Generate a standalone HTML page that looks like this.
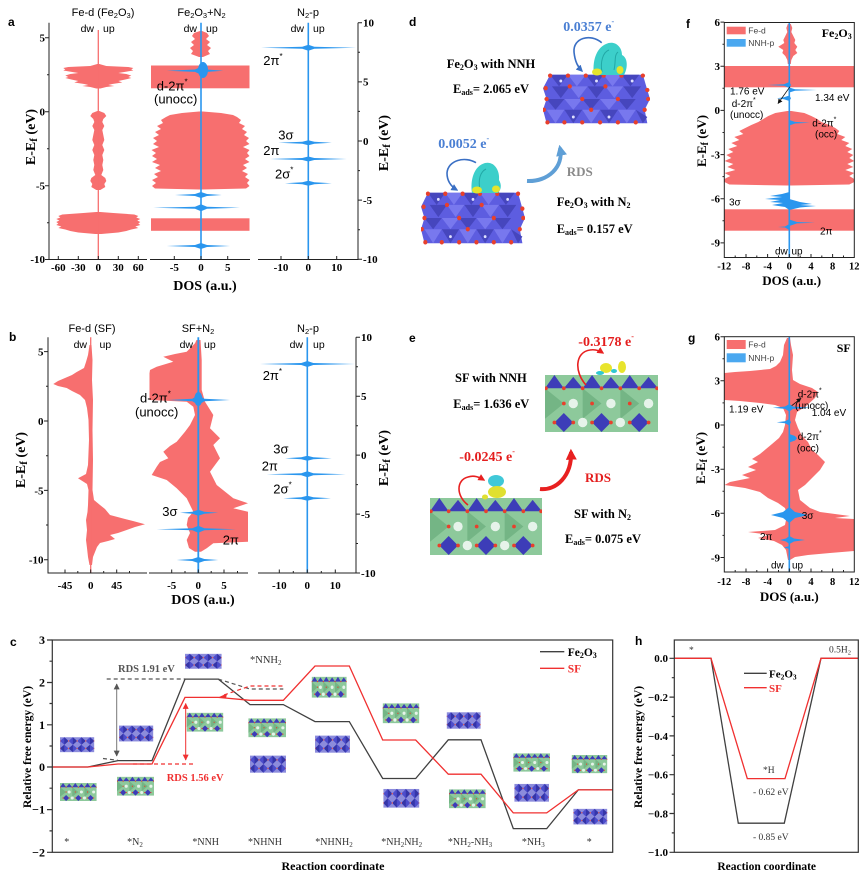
<!DOCTYPE html>
<html><head><meta charset="utf-8">
<style>
html,body{margin:0;padding:0;background:#fff;}
svg{display:block;}
.ss{font-family:"Liberation Sans",sans-serif;}
.ssb{font-family:"Liberation Sans",sans-serif;font-weight:bold;}
.sr{font-family:"Liberation Serif",serif;}
.srb{font-family:"Liberation Serif",serif;font-weight:bold;}
</style></head><body>
<svg width="865" height="879" viewBox="0 0 865 879" xmlns="http://www.w3.org/2000/svg">
<defs>
<marker id="ag" viewBox="0 0 10 10" refX="9" refY="5" markerWidth="6" markerHeight="6" orient="auto-start-reverse"><path d="M0,0 L10,5 L0,10Z" fill="#555"/></marker>
<marker id="ar" viewBox="0 0 10 10" refX="9" refY="5" markerWidth="6" markerHeight="6" orient="auto-start-reverse"><path d="M0,0 L10,5 L0,10Z" fill="#f03030"/></marker>
<marker id="ak" viewBox="0 0 10 10" refX="9" refY="5" markerWidth="6" markerHeight="6" orient="auto"><path d="M0,0 L10,5 L0,10Z" fill="#111"/></marker>
<marker id="ab" viewBox="0 0 10 10" refX="8" refY="5" markerWidth="7" markerHeight="7" markerUnits="userSpaceOnUse" orient="auto"><path d="M0,0 L10,5 L0,10Z" fill="#3a6fc4"/></marker>
<marker id="alb" viewBox="0 0 10 10" refX="7" refY="5" markerWidth="11" markerHeight="11" markerUnits="userSpaceOnUse" orient="auto"><path d="M0,0 L10,5 L0,10Z" fill="#5f9fd6"/></marker>
<marker id="arr" viewBox="0 0 10 10" refX="8" refY="5" markerWidth="7" markerHeight="7" markerUnits="userSpaceOnUse" orient="auto"><path d="M0,0 L10,5 L0,10Z" fill="#e82020"/></marker>
<marker id="arb" viewBox="0 0 10 10" refX="7" refY="5" markerWidth="11" markerHeight="11" markerUnits="userSpaceOnUse" orient="auto"><path d="M0,0 L10,5 L0,10Z" fill="#e82020"/></marker>
<symbol id="fe" viewBox="0 0 120 60" preserveAspectRatio="none">
 <path d="M8,3 H112 L117,20 L120,30 L114,42 L117,57 H4 L0,42 L4,30 L0,18Z" fill="#5d5de0"/>
 <path fill="#4646bd" d="M8,3 L18,16 L28,3Z M48,3 L58,16 L68,3Z M88,3 L98,16 L108,3Z M10,16 L20,29 L30,16Z M50,16 L60,29 L70,16Z M90,16 L100,29 L110,16Z M4,30 L14,42 L24,30Z M44,30 L54,42 L64,30Z M84,30 L94,42 L104,30Z M24,42 L34,57 L44,42Z M64,42 L74,57 L84,42Z M104,42 L112,57 L117,50Z"/>
 <path fill="#7878ee" d="M28,3 L38,16 L48,3Z M68,3 L78,16 L88,3Z M30,16 L40,29 L50,16Z M70,16 L80,29 L90,16Z M24,30 L34,42 L44,30Z M64,30 L74,42 L84,30Z M4,42 L14,57 L24,42Z M44,42 L54,57 L64,42Z M84,42 L94,57 L104,42Z"/>
 <g fill="#e8402c">
  <circle cx="8" cy="4" r="2.4"/><circle cx="28" cy="4" r="2.4"/><circle cx="48" cy="4" r="2.4"/><circle cx="68" cy="4" r="2.4"/><circle cx="88" cy="4" r="2.4"/><circle cx="112" cy="4" r="2.4"/>
  <circle cx="3" cy="18" r="2.4"/><circle cx="30" cy="16" r="2.4"/><circle cx="70" cy="16" r="2.4"/><circle cx="117" cy="20" r="2.4"/>
  <circle cx="4" cy="30" r="2.4"/><circle cx="44" cy="30" r="2.4"/><circle cx="84" cy="30" r="2.4"/><circle cx="118" cy="30" r="2.4"/>
  <circle cx="1" cy="42" r="2.4"/><circle cx="54" cy="42" r="2.4"/><circle cx="114" cy="42" r="2.4"/>
  <circle cx="5" cy="56" r="2.4"/><circle cx="24" cy="56" r="2.4"/><circle cx="44" cy="56" r="2.4"/><circle cx="64" cy="56" r="2.4"/><circle cx="84" cy="56" r="2.4"/><circle cx="104" cy="56" r="2.4"/>
 </g>
 <g fill="#dfe0ff"><circle cx="20" cy="10" r="1.6"/><circle cx="60" cy="10" r="1.6"/><circle cx="100" cy="10" r="1.6"/><circle cx="34" cy="50" r="1.6"/><circle cx="74" cy="50" r="1.6"/></g>
</symbol>
<symbol id="fes" viewBox="0 0 120 60" preserveAspectRatio="none">
 <rect x="0" y="2" width="120" height="56" fill="#8c8cdc"/>
 <path fill="#4d4dcc" d="M0,16 L15,2 L30,16 L15,30Z M30,16 L45,2 L60,16 L45,30Z M60,16 L75,2 L90,16 L75,30Z M90,16 L105,2 L120,16 L105,30Z M0,44 L15,30 L30,44 L15,58Z M30,44 L45,30 L60,44 L45,58Z M60,44 L75,30 L90,44 L75,58Z M90,44 L105,30 L120,44 L105,58Z"/>
 <path fill="#3535a8" d="M15,2 L15,30 L30,16Z M45,2 L45,30 L60,16Z M75,2 L75,30 L90,16Z M105,2 L105,30 L120,16Z M15,30 L15,58 L0,44Z M45,30 L45,58 L30,44Z M75,30 L75,58 L60,44Z M105,30 L105,58 L90,44Z"/>
 <g fill="#e06060"><circle cx="0" cy="16" r="2.5"/><circle cx="30" cy="16" r="2.5"/><circle cx="60" cy="16" r="2.5"/><circle cx="90" cy="16" r="2.5"/><circle cx="120" cy="16" r="2.5"/><circle cx="0" cy="44" r="2.5"/><circle cx="30" cy="44" r="2.5"/><circle cx="60" cy="44" r="2.5"/><circle cx="90" cy="44" r="2.5"/><circle cx="120" cy="44" r="2.5"/></g>
</symbol>
<symbol id="sf" viewBox="0 0 120 60" preserveAspectRatio="none">
 <rect x="0" y="0" width="120" height="60" fill="#8dc99b"/>
 <path fill="#74b585" d="M0,14 L20,30 L0,46Z M40,14 L60,30 L40,46Z M80,14 L100,30 L80,46Z"/>
 <path fill="#3d3db8" d="M0,14 L10,0 L20,14Z M40,14 L50,0 L60,14Z M80,14 L90,0 L100,14Z M20,14 L30,2 L40,14Z M60,14 L70,2 L80,14Z M100,14 L110,2 L120,14Z M10,50 L20,40 L30,50 L20,60Z M50,50 L60,40 L70,50 L60,60Z M90,50 L100,40 L110,50 L100,60Z"/>
 <g fill="#e6f3ea"><circle cx="30" cy="30" r="5"/><circle cx="70" cy="30" r="5"/><circle cx="110" cy="30" r="5"/><circle cx="40" cy="50" r="5"/><circle cx="80" cy="50" r="5"/></g>
 <g fill="#e8402c">
  <circle cx="1" cy="14" r="2"/><circle cx="20" cy="14" r="2"/><circle cx="40" cy="14" r="2"/><circle cx="60" cy="14" r="2"/><circle cx="80" cy="14" r="2"/><circle cx="100" cy="14" r="2"/><circle cx="119" cy="14" r="2"/>
  <circle cx="20" cy="30" r="2"/><circle cx="50" cy="30" r="2"/><circle cx="90" cy="30" r="2"/>
  <circle cx="10" cy="50" r="2"/><circle cx="30" cy="50" r="2"/><circle cx="50" cy="50" r="2"/><circle cx="70" cy="50" r="2"/><circle cx="90" cy="50" r="2"/><circle cx="110" cy="50" r="2"/>
 </g>
</symbol>
</defs>
<rect width="865" height="879" fill="#fff"/>

<!-- ================= PANEL A ================= -->
<text x="8" y="26" class="ssb" font-size="12">a</text>
<text x="103" y="16" text-anchor="middle" class="ss" font-size="11">Fe-d (Fe<tspan dy="2" font-size="7.5">2</tspan><tspan dy="-2">O</tspan><tspan dy="2" font-size="7.5">3</tspan><tspan dy="-2">)</tspan></text>
<text x="201.5" y="16" text-anchor="middle" class="ss" font-size="11">Fe<tspan dy="2" font-size="7.5">2</tspan><tspan dy="-2">O</tspan><tspan dy="2" font-size="7.5">3</tspan><tspan dy="-2">+N</tspan><tspan dy="2" font-size="7.5">2</tspan></text>
<text x="308" y="16" text-anchor="middle" class="ss" font-size="11">N<tspan dy="2" font-size="7.5">2</tspan><tspan dy="-2">-p</tspan></text>
<g fill="#f76f6f">
 <polygon points="99.3,64 106.3,66 128.3,67 133.3,68 131.3,69.5 133.3,70.5 124.3,72 118.3,73 126.3,74 131.3,75.5 128.3,77 131.3,78 125.3,79.5 118.3,81 122.3,82.5 112.3,84 108.3,85 114.3,86 106.3,87 100.3,88.5 96.3,88.5 90.3,87 82.3,86 88.3,85 84.3,84 74.3,82.5 78.3,81 71.3,79.5 65.3,78 68.3,77 65.3,75.5 70.3,74 78.3,73 72.3,72 63.3,70.5 65.3,69.5 63.3,68 68.3,67 90.3,66 97.3,64"/>
 <polygon points="99.3,111 104.3,113 106.3,116 103.3,119 102.3,122 104.3,126 102.3,130 103.3,135 104.3,140 102.3,145 104.3,150 102.3,155 103.3,160 102.3,165 103.3,170 101.3,175 105.3,178 106.3,181 104.3,184 105.3,187 100.3,190 96.3,190 91.3,187 92.3,184 90.3,181 91.3,178 95.3,175 93.3,170 94.3,165 93.3,160 94.3,155 92.3,150 94.3,145 92.3,140 93.3,135 94.3,130 92.3,126 94.3,122 93.3,119 90.3,116 92.3,113 97.3,111"/>
 <polygon points="100.3,212 113.3,213 134.3,214.5 138.3,216 136.3,217.5 140.3,219 137.3,220.5 140.3,222 138.3,223.5 140.3,225 135.3,226.5 138.3,228 131.3,229.5 126.3,231 118.3,232.5 101.3,234 95.3,234 78.3,232.5 70.3,231 65.3,229.5 58.3,228 61.3,226.5 56.3,225 58.3,223.5 56.3,222 59.3,220.5 56.3,219 60.3,217.5 58.3,216 62.3,214.5 83.3,213 96.3,212"/>
 <polygon points="202,31 207,33 209,36 206,39 210,42 207,45 211,48 208,51 210,54 203,57 199,57 191,54 193,51 190,48 194,45 191,42 195,39 192,36 194,33 200,31"/>
 <rect x="151" y="65.5" width="98.5" height="22.8"/>
 <polygon points="203,111.5 221,113 233,115 237,117 241,120 239,123 245,126 242,129 247,132 244,135 249,138 246,141 249.5,144 243,147 249.5,150 247,153 249.5,156 245,159 249.5,162 243,165 247,168 242,171 248,174 245,177 249.5,180 247,183 249.5,186 246,188.5 203,189.5 199,189.5 155,188.5 152,186 156,183 152,180 158,177 154,174 161,171 155,168 160,165 152,162 157,159 152,156 156,153 151.5,150 159,147 153,144 157,141 153,138 159,135 155,132 161,129 157,126 163,123 161,120 166,117 170,115 182,113 199,111.5"/>
 <rect x="151" y="218.3" width="98.5" height="12.5"/>
</g>
<line x1="98.3" y1="30" x2="98.3" y2="259.5" stroke="#f76f6f" stroke-width="1.3"/>
<line x1="201" y1="22.7" x2="201" y2="259.5" stroke="#2a96ee" stroke-width="1.6"/>
<line x1="308.3" y1="22.7" x2="308.3" y2="259.5" stroke="#2a96ee" stroke-width="1.6"/>
<g fill="#2a96ee">
 <polygon points="166.7,70.7 195,69.5 201,66.7 207,69.5 223.3,70.7 207,71.9 201,74.7 195,71.9"/>
 <ellipse cx="203" cy="70" rx="5" ry="8"/>
 <polygon points="175,195 195,194 201,192 207,194 221.7,195 207,196 201,198 195,196"/>
 <polygon points="153.3,207.7 195,206.7 201,204.2 207,206.7 240,207.7 207,208.7 201,211.2 195,208.7"/>
 <polygon points="166.7,246 195,245 201,243 207,245 230,246 207,247 201,249 195,247"/>
 <polygon points="261,47.7 302.3,46.7 308.3,44.7 314.3,46.7 356,47.7 314.3,48.7 308.3,50.7 302.3,48.7"/>
 <polygon points="278.3,142.7 302.3,141.7 308.3,140.2 314.3,141.7 331.7,142.7 314.3,143.7 308.3,145.2 302.3,143.7"/>
 <polygon points="270,159 302.3,158 308.3,156.5 314.3,158 346.7,159 314.3,160 308.3,161.5 302.3,160"/>
 <polygon points="285,183.3 302.3,182.3 308.3,180.8 314.3,182.3 331.7,183.3 314.3,184.3 308.3,185.8 302.3,184.3"/>
</g>
<g stroke="#222" stroke-width="1" fill="none">
 <path d="M49,22.7 V259.5 H147 M150,259.5 H250 M258,259.5 H358 V22.7"/>
 <path d="M45,37.7 H49 M45,111.7 H49 M45,185.7 H49 M45,259.5 H49 M47,74.7 H49 M47,148.7 H49 M47,222.7 H49"/>
 <path d="M358,22.7 H362 M358,81.85 H362 M358,141 H362 M358,200.15 H362 M358,259.3 H362 M358,52.3 H360 M358,111.4 H360 M358,170.6 H360 M358,229.7 H360"/>
 <path d="M58.3,259.5 V256 M78.3,259.5 V256 M98.3,259.5 V256 M118.3,259.5 V256 M138.3,259.5 V256 M174.3,259.5 V256 M201,259.5 V256 M227.7,259.5 V256 M281,259.5 V256 M308.3,259.5 V256 M336.7,259.5 V256"/>
</g>
<g class="ss" font-size="10.5">
 <text x="94" y="32" text-anchor="end">dw</text><text x="103" y="32">up</text>
 <text x="197" y="32" text-anchor="end">dw</text><text x="206" y="32">up</text>
 <text x="304" y="32" text-anchor="end">dw</text><text x="313" y="32">up</text>
</g>
<g class="srb" font-size="11">
 <text x="45" y="41.5" text-anchor="end">5</text>
 <text x="45" y="115.5" text-anchor="end">0</text>
 <text x="45" y="189.5" text-anchor="end">-5</text>
 <text x="45" y="263" text-anchor="end">-10</text>
 <text x="363" y="26.5">10</text><text x="363" y="85.5">5</text><text x="363" y="145">0</text><text x="363" y="204">-5</text><text x="363" y="263">-10</text>
</g>
<g class="srb" font-size="11" text-anchor="middle">
 <text x="58.3" y="271">-60</text><text x="78.3" y="271">-30</text><text x="98.3" y="271">0</text><text x="118.3" y="271">30</text><text x="138.3" y="271">60</text>
 <text x="174.3" y="271">-5</text><text x="201" y="271">0</text><text x="227.7" y="271">5</text>
 <text x="281" y="271">-10</text><text x="308.3" y="271">0</text><text x="336.7" y="271">10</text>
</g>
<text x="205" y="290" text-anchor="middle" class="srb" font-size="14">DOS (a.u.)</text>
<text transform="translate(35,137) rotate(-90)" text-anchor="middle" class="srb" font-size="14">E-E<tspan font-size="11" dy="2">f</tspan><tspan dy="-2"> (eV)</tspan></text>
<text transform="translate(388,143) rotate(-90)" text-anchor="middle" class="srb" font-size="14">E-E<tspan font-size="11" dy="2">f</tspan><tspan dy="-2"> (eV)</tspan></text>
<g class="ss" font-size="13">
 <text x="156.7" y="90.5">d-2π<tspan font-size="8" dy="-6">*</tspan></text>
 <text x="154" y="103.5">(unocc)</text>
 <text x="263.3" y="65">2π<tspan font-size="8" dy="-6">*</tspan></text>
 <text x="278.3" y="139.5">3σ</text>
 <text x="263.3" y="155">2π</text>
 <text x="275" y="178.5">2σ<tspan font-size="8" dy="-6">*</tspan></text>
</g>

<!-- ================= PANEL B ================= -->
<text x="9" y="341" class="ssb" font-size="12">b</text>
<text x="92" y="332" text-anchor="middle" class="ss" font-size="11">Fe-d (SF)</text>
<text x="198" y="332" text-anchor="middle" class="ss" font-size="11">SF+N<tspan dy="2" font-size="7.5">2</tspan></text>
<text x="308" y="332" text-anchor="middle" class="ss" font-size="11">N<tspan dy="2" font-size="7.5">2</tspan><tspan dy="-2">-p</tspan></text>
<g fill="#f76f6f">
 <polygon points="91.5,345 92.5,360 92,380 93,400 92.5,430 93,460 92.5,490 94,500 100,505 105,509 110,515 125,519 133,521 145,524.3 135,527 126.7,530 118,533 110,535 115,539 108,541 100,543 97,547 95,552 93,557 92,565 89.5,565 88,557 87,548 86,540 87,530 86,520 87.5,512 88,505 88.5,490 87,484 78,478.3 86,474 88,465 89,440 88.5,420 87,408 85,400 80,395 72,391 66.7,388 58,386 53.3,384 58,381 65,378 72,375 76.7,372 84,368 86,362 88,355 89.5,345"/>
 <polygon points="196.5,340 195,343.3 186.7,351.7 175,354 163.3,356.7 173.3,361.7 156.7,366.7 150,370 149.5,373.3 149.5,400 186.7,401.7 193.3,406.7 195,415 190,425 185,431.7 176.7,441.7 170,446 163.3,451.7 168.3,458.3 160,462 156.7,466.7 151.7,475 166.7,480 176.7,488.3 186.7,498.3 193.3,511.7 188,518 186.7,525 190,533 186.7,540 189,548 195,551.7 201,551.7 206.7,548.3 213.3,543.3 248,541.7 248,516.7 248,511.7 233.3,508.3 248,503.3 233.3,498.3 216.7,485 210,471.7 220,458.3 213.3,445 220,438.3 210,428.3 213.3,415 205,401.7 201.7,390 201.7,360 200.5,340"/>
</g>
<line x1="90.7" y1="337.3" x2="90.7" y2="573" stroke="#f76f6f" stroke-width="1.3"/>
<line x1="198.3" y1="337.3" x2="198.3" y2="573" stroke="#2a96ee" stroke-width="1.8"/>
<line x1="307.3" y1="337.3" x2="307.3" y2="573" stroke="#2a96ee" stroke-width="1.6"/>
<g fill="#2a96ee">
 <polygon points="168.3,400 192.3,398.8 198.3,395 204.3,398.8 230,400 204.3,401.2 198.3,405 192.3,401.2"/>
 <ellipse cx="198.3" cy="399" rx="4" ry="7"/>
 <polygon points="180,512.7 192.3,511.7 198.3,509.7 204.3,511.7 218.3,512.7 204.3,513.7 198.3,515.7 192.3,513.7"/>
 <polygon points="156.7,529.3 192.3,528.3 198.3,525.8 204.3,528.3 236,529.3 204.3,530.3 198.3,532.8 192.3,530.3"/>
 <polygon points="176.7,560 192.3,559 198.3,557 204.3,559 218.3,560 204.3,561 198.3,563 192.3,561"/>
 <polygon points="260,364 301.3,363 307.3,361 313.3,363 355,364 313.3,365 307.3,367 301.3,365"/>
 <polygon points="285,458.3 301.3,457.3 307.3,455.8 313.3,457.3 331.7,458.3 313.3,459.3 307.3,460.8 301.3,459.3"/>
 <polygon points="266.7,474.3 301.3,473.3 307.3,471.3 313.3,473.3 345.7,474.3 313.3,475.3 307.3,477.3 301.3,475.3"/>
 <polygon points="283.3,498.3 301.3,497.3 307.3,495.8 313.3,497.3 331,498.3 313.3,499.3 307.3,500.8 301.3,499.3"/>
</g>
<g stroke="#222" stroke-width="1" fill="none">
 <path d="M48,337.3 V573 H147 M149,573 H248 M258,573 H356 V337.3"/>
 <path d="M44,351.65 H48 M44,421 H48 M44,490.35 H48 M44,559.7 H48 M46,386.3 H48 M46,455.7 H48 M46,525 H48"/>
 <path d="M356,337.3 H360 M356,396.2 H360 M356,455.15 H360 M356,514.1 H360 M356,573 H360 M356,366.7 H358 M356,425.7 H358 M356,484.6 H358 M356,543.5 H358"/>
 <path d="M65,573 V569.5 M90.7,573 V569.5 M116.7,573 V569.5 M77.8,573 V571 M103.7,573 V571 M129.5,573 V571 M171.7,573 V569.5 M198.3,573 V569.5 M224,573 V569.5 M185,573 V571 M211.2,573 V571 M237.5,573 V571 M279.3,573 V569.5 M307.3,573 V569.5 M335.3,573 V569.5 M293.3,573 V571 M321.3,573 V571"/>
</g>
<g class="ss" font-size="10.5">
 <text x="87" y="348" text-anchor="end">dw</text><text x="99.5" y="348">up</text>
 <text x="193" y="348" text-anchor="end">dw</text><text x="204" y="348">up</text>
 <text x="303" y="348" text-anchor="end">dw</text><text x="313" y="348">up</text>
</g>
<g class="srb" font-size="11">
 <text x="43.5" y="355.5" text-anchor="end">5</text>
 <text x="43.5" y="425" text-anchor="end">0</text>
 <text x="43.5" y="494.3" text-anchor="end">-5</text>
 <text x="43.5" y="563.7" text-anchor="end">-10</text>
 <text x="361" y="341">10</text><text x="361" y="400">5</text><text x="361" y="459">0</text><text x="361" y="518">-5</text><text x="361" y="577">-10</text>
</g>
<g class="srb" font-size="11" text-anchor="middle">
 <text x="65" y="589">-45</text><text x="90.7" y="589">0</text><text x="116.7" y="589">45</text>
 <text x="171.7" y="589">-5</text><text x="198.3" y="589">0</text><text x="224" y="589">5</text>
 <text x="279.3" y="589">-10</text><text x="307.3" y="589">0</text><text x="335.3" y="589">10</text>
</g>
<text x="203" y="604" text-anchor="middle" class="srb" font-size="14">DOS (a.u.)</text>
<text transform="translate(25,460) rotate(-90)" text-anchor="middle" class="srb" font-size="14">E-E<tspan font-size="11" dy="2">f</tspan><tspan dy="-2"> (eV)</tspan></text>
<text transform="translate(388,458) rotate(-90)" text-anchor="middle" class="srb" font-size="14">E-E<tspan font-size="11" dy="2">f</tspan><tspan dy="-2"> (eV)</tspan></text>
<g class="ss" font-size="13">
 <text x="140" y="402.5">d-2π<tspan font-size="8" dy="-6">*</tspan></text>
 <text x="135" y="416.5">(unocc)</text>
 <text x="162.3" y="516">3σ</text>
 <text x="222.7" y="544.5">2π</text>
 <text x="262.7" y="380">2π<tspan font-size="8" dy="-6">*</tspan></text>
 <text x="273.3" y="453.5">3σ</text>
 <text x="261.7" y="470.5">2π</text>
 <text x="273.3" y="493.5">2σ<tspan font-size="8" dy="-6">*</tspan></text>
</g>

<!-- ================= PANEL D ================= -->
<text x="409" y="26" class="ssb" font-size="12">d</text>
<use href="#fe" x="543" y="72" width="107" height="54"/>
<use href="#fe" x="421" y="190" width="104" height="56"/>
<path d="M594,75 C592,62 596,48 606,44 C614,40 622,46 622,55 C628,58 628,68 624,75 Z" fill="#3ccfca"/>
<path d="M602,72 C600,62 603,52 609,50 M614,70 C616,62 614,55 618,52" stroke="#22a8a6" stroke-width="1" fill="none"/>
<ellipse cx="597" cy="72" rx="5" ry="3.5" fill="#e4e42c"/><ellipse cx="620" cy="70" rx="3.5" ry="4" fill="#e4e42c"/>
<path d="M472,193 C470,180 474,166 485,163 C494,161 500,170 499,180 C502,185 501,190 498,193 Z" fill="#3ccfca"/>
<path d="M480,190 C478,180 480,172 486,169" stroke="#22a8a6" stroke-width="1" fill="none"/>
<ellipse cx="477" cy="190" rx="5" ry="3.5" fill="#e4e42c"/><ellipse cx="496" cy="189" rx="4" ry="3.5" fill="#e4e42c"/>
<path d="M601.7,42.7 C590,33 573,38 574,52 C575,62 578,67 582,71" stroke="#3a6fc4" stroke-width="1.6" fill="none" marker-end="url(#ab)"/>
<path d="M476,162.7 C465,156 448,160 447,173 C447,182 452,187 457,190" stroke="#3a6fc4" stroke-width="1.6" fill="none" marker-end="url(#ab)"/>
<path d="M527,181 C548,182 564,167 560,148" stroke="#5f9fd6" stroke-width="4" fill="none" marker-end="url(#alb)"/>
<text x="563.3" y="31" class="srb" font-size="14" fill="#4a7fd3">0.0357 e<tspan font-size="8" dy="-7">-</tspan></text>
<text x="446.7" y="68" class="srb" font-size="12.5">Fe<tspan dy="2" font-size="8">2</tspan><tspan dy="-2">O</tspan><tspan dy="2" font-size="8">3</tspan><tspan dy="-2"> with NNH</tspan></text>
<text x="453" y="93" class="srb" font-size="12.5">E<tspan dy="2" font-size="8">ads</tspan><tspan dy="-2">= 2.065 eV</tspan></text>
<text x="438.3" y="148" class="srb" font-size="14" fill="#4a7fd3">0.0052 e<tspan font-size="8" dy="-7">-</tspan></text>
<text x="566.7" y="176" class="srb" font-size="13" fill="#8a8a8a">RDS</text>
<text x="556.7" y="206" class="srb" font-size="12.5">Fe<tspan dy="2" font-size="8">2</tspan><tspan dy="-2">O</tspan><tspan dy="2" font-size="8">3</tspan><tspan dy="-2"> with N</tspan><tspan dy="2" font-size="8">2</tspan></text>
<text x="556.7" y="233" class="srb" font-size="12.5">E<tspan dy="2" font-size="8">ads</tspan><tspan dy="-2">= 0.157 eV</tspan></text>

<!-- ================= PANEL E ================= -->
<text x="409" y="342" class="ssb" font-size="12">e</text>
<use href="#sf" x="545" y="375" width="113" height="57"/>
<use href="#sf" x="430" y="498" width="112" height="57"/>
<ellipse cx="606" cy="368" rx="6" ry="5" fill="#e8e42c"/><ellipse cx="600" cy="373" rx="4" ry="2" fill="#30c8d0"/><ellipse cx="622" cy="367" rx="4" ry="6" fill="#e8e42c"/><ellipse cx="614" cy="371" rx="3" ry="2" fill="#30c8d0"/>
<ellipse cx="496" cy="481" rx="8" ry="6" fill="#40c8d8"/><ellipse cx="497" cy="492" rx="9" ry="6" fill="#e0e030"/><ellipse cx="485" cy="497" rx="3" ry="2.5" fill="#e0e030"/>
<path d="M586,385 C574,372 575,352 590,350 C596,349 600,351 603,353" stroke="#e82020" stroke-width="1.6" fill="none" marker-end="url(#arr)"/>
<path d="M468,505 C456,496 456,480 468,477 C474,475 479,477 484,480" stroke="#e82020" stroke-width="1.6" fill="none" marker-end="url(#arr)"/>
<path d="M540,489 C556,491 572,476 571,452" stroke="#e82020" stroke-width="4" fill="none" marker-end="url(#arb)"/>
<text x="578.3" y="346" class="srb" font-size="14" fill="#e41e1e">-0.3178 e<tspan font-size="8" dy="-7">-</tspan></text>
<text x="455" y="382" class="srb" font-size="12.5">SF with NNH</text>
<text x="453.3" y="408" class="srb" font-size="12.5">E<tspan dy="2" font-size="8">ads</tspan><tspan dy="-2">= 1.636 eV</tspan></text>
<text x="459.3" y="461" class="srb" font-size="14" fill="#e41e1e">-0.0245 e<tspan font-size="8" dy="-7">-</tspan></text>
<text x="585" y="482" class="srb" font-size="13" fill="#e41e1e">RDS</text>
<text x="574" y="518" class="srb" font-size="12.5">SF with N<tspan dy="2" font-size="8">2</tspan></text>
<text x="565" y="543" class="srb" font-size="12.5">E<tspan dy="2" font-size="8">ads</tspan><tspan dy="-2">= 0.075 eV</tspan></text>

<!-- ================= PANEL F ================= -->
<text x="686" y="28" class="ssb" font-size="12">f</text>
<g fill="#f76f6f">
 <polygon points="790.8,24 792.3,28 791.3,32 793.3,36 795.3,40 794.3,43 797.3,46.7 795.3,50 797.3,53 793.3,56 791.3,60 790.8,64 787.8,64 787.3,60 785.3,56 782.3,53 783.3,50 778.3,46.7 784.3,43 783.3,40 785.3,36 787.3,32 786.3,28 787.8,24"/>
 <rect x="724.3" y="66" width="130" height="21.3"/>
 <polygon points="791.3,111 804.3,113 811.3,116 817.3,119 821.3,122 829.3,125 835.3,128 839.3,131 837.3,134 845.3,137 841.3,140 849.3,143 845.3,146 852.3,149 847.3,152 853.3,155 849.3,158 854.3,161 847.3,164 853.3,167 845.3,170 854.3,173 849.3,176 854.3,179 854.3,182 849.3,184.5 791.3,185.5 787.3,185.5 729.3,184.5 724.5,182 724.5,179 730.3,176 724.5,173 735.3,170 727.3,167 733.3,164 724.5,161 731.3,158 726.3,155 733.3,152 728.3,149 737.3,146 731.3,143 739.3,140 734.3,137 743.3,134 739.3,131 745.3,128 751.3,125 758.3,122 763.3,119 768.3,116 775.3,113 787.3,111"/>
 <rect x="724.3" y="209.3" width="130" height="21.4"/>
</g>
<line x1="789.3" y1="22.5" x2="789.3" y2="257.5" stroke="#2a96ee" stroke-width="1.6"/>
<g fill="#2a96ee">
 <polygon points="767.7,85 784,84.2 789.3,82 791,85 789.3,88 784,85.8"/>
 <polygon points="789.3,87.5 795,89.2 816.7,90 795,90.8 789.3,92.5"/>
 <polygon points="777,98.3 784,97.3 789.3,95.5 791,98.3 789.3,101 784,99.3"/>
 <polygon points="789.3,120 795,121.9 810,122.7 795,123.5 789.3,125.5"/>
 <polygon points="789.3,192 782,194 770,196 782,197 765,199 780,200 770,202 783,203 772,205 785,207 789.3,210"/>
 <polygon points="789.3,199 800,202 812,204 800,205 816,206 800,207.5 789.3,210"/>
 <polygon points="789.3,219.5 797,222 815,222.7 797,223.4 789.3,226"/>
 <polygon points="789.3,224 785,226.5 778,227 785,227.5 789.3,230"/>
</g>
<rect x="724.3" y="22.5" width="130" height="235" fill="none" stroke="#222" stroke-width="1"/>
<g stroke="#222" stroke-width="1">
 <path d="M720.5,22.1 H724.3 M720.5,66.2 H724.3 M720.5,110.4 H724.3 M720.5,154.6 H724.3 M720.5,198.7 H724.3 M720.5,242.9 H724.3 M722.5,44.2 H724.3 M722.5,88.3 H724.3 M722.5,132.5 H724.3 M722.5,176.6 H724.3 M722.5,220.8 H724.3"/>
 <path d="M746,257.5 V254 M767.6,257.5 V254 M789.3,257.5 V254 M811,257.5 V254 M832.6,257.5 V254 M735.2,257.5 V255.5 M756.8,257.5 V255.5 M778.5,257.5 V255.5 M800.2,257.5 V255.5 M821.8,257.5 V255.5 M843.5,257.5 V255.5"/>
</g>
<rect x="726.7" y="26.7" width="19" height="7.6" fill="#f76f6f"/>
<rect x="726.7" y="39" width="19" height="7.7" fill="#4aa8f0"/>
<text x="748.3" y="33.5" class="ss" font-size="8.5" fill="#444">Fe-d</text>
<text x="748.3" y="46" class="ss" font-size="8.5" fill="#444">NNH-p</text>
<text x="821.7" y="37" class="srb" font-size="12">Fe<tspan dy="2" font-size="8">2</tspan><tspan dy="-2">O</tspan><tspan dy="2" font-size="8">3</tspan></text>
<g class="srb" font-size="11">
 <text x="720" y="26" text-anchor="end">6</text><text x="720" y="70" text-anchor="end">3</text><text x="720" y="114.2" text-anchor="end">0</text><text x="720" y="158.4" text-anchor="end">-3</text><text x="720" y="202.5" text-anchor="end">-6</text><text x="720" y="246.7" text-anchor="end">-9</text>
</g>
<g class="srb" font-size="10.5" text-anchor="middle">
 <text x="724.3" y="269.5">-12</text><text x="746" y="269.5">-8</text><text x="767.6" y="269.5">-4</text><text x="789.3" y="269.5">0</text><text x="811" y="269.5">4</text><text x="832.6" y="269.5">8</text><text x="854.3" y="269.5">12</text>
</g>
<text x="791.7" y="285" text-anchor="middle" class="srb" font-size="13">DOS (a.u.)</text>
<text transform="translate(706,141) rotate(-90)" text-anchor="middle" class="srb" font-size="13">E-E<tspan font-size="10" dy="2">f</tspan><tspan dy="-2"> (eV)</tspan></text>
<g class="ss" font-size="10">
 <text x="730" y="94.5">1.76 eV</text>
 <text x="731.7" y="107">d-2π<tspan font-size="7" dy="-5">*</tspan></text>
 <text x="730" y="118">(unocc)</text>
 <text x="815" y="101">1.34 eV</text>
 <text x="812.3" y="126.5">d-2π<tspan font-size="7" dy="-5">*</tspan></text>
 <text x="815" y="137.5">(occ)</text>
 <text x="729" y="205.5">3σ</text>
 <text x="820" y="234.5">2π</text>
 <text x="775" y="254.5">dw</text><text x="791.5" y="254.5">up</text>
</g>
<line x1="790" y1="86.7" x2="778" y2="103.5" stroke="#111" stroke-width="0.8" marker-end="url(#ak)"/>

<!-- ================= PANEL G ================= -->
<text x="688" y="342" class="ssb" font-size="12">g</text>
<polygon fill="#f76f6f" points="787,338 784,345 783,355 780,362 776,366 770,369 750,371 735,372 724.5,373 724.5,400 740,401 760,403 775,405 783,408 786,415 785,425 783,432 779,438 772,444 766,449 760,454 752,459 758,462 748,467 756,470 742,475 750,478 730,482 724.5,485 745,488 760,492 768,498 778,503 785,508 787,515 785,525 775,530 748,532 770,535 758,538 774,541 782,545 786,550 788,560 790,560 795,557 808,555 830,553 854,551 854,519 835,518 850,516 820,512 810,508 805,504 800,500 798,490 805,485 812,478 820,470 825,462 818,455 812,450 808,442 802,436 798,428 795,420 797,412 805,407 815,398 818,392 812,388 800,384 793,380 792,370 793,355 791,345 790,338"/>
<line x1="789.3" y1="336.7" x2="789.3" y2="572" stroke="#2a96ee" stroke-width="1.6"/>
<g fill="#2a96ee">
 <polygon points="772.7,407.7 785,406.5 789.3,404 793,406.5 811,407.7 793,408.9 789.3,411.5 785,408.9"/>
 <polygon points="776.7,422.3 785,421.3 789.3,419 791,422.3 789.3,425.5 785,423.3"/>
 <polygon points="789.3,434 795,436 797,438.3 795,440.5 789.3,442.5"/>
 <polygon points="771,515 783,512 789.3,507 795,512 808.3,515 795,518 789.3,523 783,518"/>
 <polygon points="780,540 786,538.5 789.3,536 794,538.5 805,540 794,541.5 789.3,544 786,541.5"/>
 <polygon points="789.3,546 784,547.5 789.3,549"/>
</g>
<rect x="724.3" y="336.7" width="130" height="235.3" fill="none" stroke="#222" stroke-width="1"/>
<g stroke="#222" stroke-width="1">
 <path d="M720.5,336.7 H724.3 M720.5,380.8 H724.3 M720.5,425 H724.3 M720.5,469.2 H724.3 M720.5,513.3 H724.3 M720.5,557.5 H724.3 M722.5,358.8 H724.3 M722.5,402.9 H724.3 M722.5,447.1 H724.3 M722.5,491.2 H724.3 M722.5,535.4 H724.3"/>
 <path d="M746,572 V568.5 M767.6,572 V568.5 M789.3,572 V568.5 M811,572 V568.5 M832.6,572 V568.5 M735.2,572 V570 M756.8,572 V570 M778.5,572 V570 M800.2,572 V570 M821.8,572 V570 M843.5,572 V570"/>
</g>
<rect x="726.7" y="340" width="19" height="9" fill="#f76f6f"/>
<rect x="726.7" y="353.3" width="19" height="9" fill="#4aa8f0"/>
<text x="748.3" y="347.5" class="ss" font-size="8.5" fill="#444">Fe-d</text>
<text x="748.3" y="361" class="ss" font-size="8.5" fill="#444">NNH-p</text>
<text x="836.7" y="352" class="srb" font-size="12">SF</text>
<g class="srb" font-size="11">
 <text x="720" y="340.5" text-anchor="end">6</text><text x="720" y="384.6" text-anchor="end">3</text><text x="720" y="428.8" text-anchor="end">0</text><text x="720" y="473" text-anchor="end">-3</text><text x="720" y="517.1" text-anchor="end">-6</text><text x="720" y="561.3" text-anchor="end">-9</text>
</g>
<g class="srb" font-size="10.5" text-anchor="middle">
 <text x="724.3" y="585">-12</text><text x="746" y="585">-8</text><text x="767.6" y="585">-4</text><text x="789.3" y="585">0</text><text x="811" y="585">4</text><text x="832.6" y="585">8</text><text x="854.3" y="585">12</text>
</g>
<text x="789.3" y="601" text-anchor="middle" class="srb" font-size="13">DOS (a.u.)</text>
<text transform="translate(705,458) rotate(-90)" text-anchor="middle" class="srb" font-size="13">E-E<tspan font-size="10" dy="2">f</tspan><tspan dy="-2"> (eV)</tspan></text>
<g class="ss" font-size="10">
 <text x="797.7" y="397.5">d-2π<tspan font-size="7" dy="-5">*</tspan></text>
 <text x="795" y="409">(unocc)</text>
 <text x="729" y="412.5">1.19 eV</text>
 <text x="811.7" y="416">1.04 eV</text>
 <text x="797.7" y="440">d-2π<tspan font-size="7" dy="-5">*</tspan></text>
 <text x="796.7" y="451.5">(occ)</text>
 <text x="801.7" y="519">3σ</text>
 <text x="760" y="540">2π</text>
 <text x="771" y="568.5">dw</text><text x="792" y="568.5">up</text>
</g>
<line x1="791.7" y1="405.7" x2="801" y2="398.3" stroke="#111" stroke-width="0.8" marker-end="url(#ak)"/>

<!-- ================= PANEL C ================= -->
<text x="10" y="646" class="ssb" font-size="12">c</text>
<use href="#fes" x="60" y="736.7" width="34.3" height="16"/>
<use href="#sf" x="60" y="783" width="36.7" height="18"/>
<use href="#fes" x="119" y="725" width="34.3" height="17"/>
<use href="#sf" x="117" y="776.7" width="37" height="19"/>
<use href="#fes" x="185" y="653.3" width="36.7" height="16"/>
<use href="#sf" x="186.7" y="712.7" width="36.6" height="19"/>
<use href="#sf" x="248.3" y="718.3" width="37.7" height="19"/>
<use href="#fes" x="250" y="755" width="36" height="18.3"/>
<use href="#sf" x="311.7" y="676.7" width="35" height="21"/>
<use href="#fes" x="315" y="735" width="35" height="18.3"/>
<use href="#sf" x="382.7" y="703.3" width="36.6" height="20"/>
<use href="#fes" x="383.3" y="788.3" width="36" height="20"/>
<use href="#fes" x="446.7" y="711.7" width="34" height="17.6"/>
<use href="#sf" x="449" y="789.3" width="36.7" height="19"/>
<use href="#sf" x="513.3" y="753.3" width="36.7" height="18.4"/>
<use href="#fes" x="514.3" y="783.3" width="34.7" height="19"/>
<use href="#sf" x="571.7" y="755" width="35.6" height="18.3"/>
<use href="#fes" x="573.3" y="808.3" width="34" height="16.7"/>
<polyline fill="none" stroke="#404040" stroke-width="1.3" points="52.3,767 88,767 118,760.6 152,760.6 185,679.1 218.3,679.1 250,704.6 283.3,704.6 315,721.6 349.3,721.6 382.7,778.5 415.7,778.5 448.3,739.8 481,739.8 513.3,828.6 546.7,828.6 578.3,789.9 612.7,789.9"/>
<polyline fill="none" stroke="#f03030" stroke-width="1.3" points="52.3,767 88,767 118,764 152,764 185,697.4 218.3,697.4 250,700.3 283.3,700.3 315,666 349.3,666 382.7,740 415.7,740 448.3,774.2 481,774.2 513.3,812.9 546.7,812.9 578.3,789.9 612.7,789.9"/>
<g fill="none" stroke-dasharray="4,3" stroke-width="1.2">
 <line x1="106.7" y1="679" x2="185" y2="679" stroke="#555"/>
 <line x1="103" y1="758.5" x2="118" y2="760.3" stroke="#555"/>
 <polyline points="218.3,679.1 250,689 283.3,689" stroke="#555"/>
 <polyline points="224,695 250,686 283.3,686" stroke="#f03030"/>
 <line x1="133" y1="764" x2="195" y2="764" stroke="#f03030"/>
</g>
<path d="M227,693.5 L219,697 L226,698.5Z" fill="#f03030"/>
<line x1="116.7" y1="684" x2="116.7" y2="756" stroke="#777" stroke-width="1" marker-start="url(#ag)" marker-end="url(#ag)"/>
<line x1="185.7" y1="703.5" x2="185.7" y2="760" stroke="#f03030" stroke-width="1" marker-start="url(#ar)" marker-end="url(#ar)"/>
<text x="118" y="672" class="srb" font-size="10.5" fill="#555">RDS  1.91 eV</text>
<text x="166.7" y="781" class="srb" font-size="10.5" fill="#f03030">RDS  1.56 eV</text>
<text x="250" y="663" class="sr" font-size="10.5" fill="#333">*NNH<tspan dy="2" font-size="7">2</tspan></text>
<rect x="52.3" y="640" width="560.4" height="212.3" fill="none" stroke="#333" stroke-width="1.2"/>
<g stroke="#333" stroke-width="1.2">
 <path d="M47,640 H52.3 M47,682.5 H52.3 M47,724.8 H52.3 M47,767 H52.3 M47,809.6 H52.3 M47,852.3 H52.3 M49.5,661.2 H52.3 M49.5,703.5 H52.3 M49.5,746 H52.3 M49.5,788.2 H52.3 M49.5,830.9 H52.3"/>
</g>
<g class="srb" font-size="12" text-anchor="end">
 <text x="45" y="644">3</text><text x="45" y="686.5">2</text><text x="45" y="728.8">1</text><text x="45" y="771">0</text><text x="45" y="813.6">−1</text><text x="45" y="856.3">−2</text>
</g>
<text transform="translate(31,747) rotate(-90)" text-anchor="middle" class="srb" font-size="11.5">Relative free energy (eV)</text>
<text x="333" y="870" text-anchor="middle" class="srb" font-size="12">Reaction coordinate</text>
<g class="sr" font-size="10" fill="#333" text-anchor="middle">
 <text x="66.7" y="845">*</text>
 <text x="135" y="845">*N<tspan dy="2" font-size="7">2</tspan></text>
 <text x="205.7" y="845">*NNH</text>
 <text x="265" y="845">*NHNH</text>
 <text x="334" y="845">*NHNH<tspan dy="2" font-size="7">2</tspan></text>
 <text x="401.7" y="845">*NH<tspan dy="2" font-size="7">2</tspan><tspan dy="-2">NH</tspan><tspan dy="2" font-size="7">2</tspan></text>
 <text x="470" y="845">*NH<tspan dy="2" font-size="7">2</tspan><tspan dy="-2">-NH</tspan><tspan dy="2" font-size="7">3</tspan></text>
 <text x="533.3" y="845">*NH<tspan dy="2" font-size="7">3</tspan></text>
 <text x="589.3" y="845">*</text>
</g>
<line x1="540" y1="651.7" x2="564.3" y2="651.7" stroke="#404040" stroke-width="1.3"/>
<line x1="540" y1="668.3" x2="564.3" y2="668.3" stroke="#f03030" stroke-width="1.3"/>
<text x="567.7" y="656" class="srb" font-size="11.5">Fe<tspan dy="2" font-size="8">2</tspan><tspan dy="-2">O</tspan><tspan dy="2" font-size="8">3</tspan></text>
<text x="567.7" y="672.5" class="srb" font-size="11.5" fill="#f03030">SF</text>

<!-- ================= PANEL H ================= -->
<text x="635" y="645" class="ssb" font-size="12">h</text>
<polyline fill="none" stroke="#404040" stroke-width="1.3" points="674.3,658.3 711,658.3 738.3,823.2 784.3,823.2 821,658.3 858.3,658.3"/>
<polyline fill="none" stroke="#f03030" stroke-width="1.3" points="674.3,658.3 711,658.3 747.3,778.6 785,778.6 821,658.3 858.3,658.3"/>
<rect x="674.3" y="640" width="184" height="212.3" fill="none" stroke="#333" stroke-width="1.2"/>
<g stroke="#333" stroke-width="1.2">
 <path d="M669.5,658.3 H674.3 M669.5,697.1 H674.3 M669.5,735.9 H674.3 M669.5,774.7 H674.3 M669.5,813.5 H674.3 M669.5,852.3 H674.3 M671.8,677.7 H674.3 M671.8,716.5 H674.3 M671.8,755.3 H674.3 M671.8,794.1 H674.3 M671.8,832.9 H674.3"/>
</g>
<g class="srb" font-size="11" text-anchor="end">
 <text x="668" y="662">0.0</text><text x="668" y="701">−0.2</text><text x="668" y="739.8">−0.4</text><text x="668" y="778.6">−0.6</text><text x="668" y="817.4">−0.8</text><text x="668" y="856.2">−1.0</text>
</g>
<text transform="translate(642,747) rotate(-90)" text-anchor="middle" class="srb" font-size="11.5">Relative free energy (eV)</text>
<text x="766.7" y="870" text-anchor="middle" class="srb" font-size="11.5">Reaction coordinate</text>
<line x1="744" y1="673.3" x2="766.7" y2="673.3" stroke="#404040" stroke-width="1.3"/>
<line x1="744" y1="687.7" x2="766.7" y2="687.7" stroke="#f03030" stroke-width="1.3"/>
<text x="769" y="677.5" class="srb" font-size="11">Fe<tspan dy="2" font-size="7.5">2</tspan><tspan dy="-2">O</tspan><tspan dy="2" font-size="7.5">3</tspan></text>
<text x="769" y="692" class="srb" font-size="11" fill="#f03030">SF</text>
<g class="sr" font-size="9.5" fill="#333">
 <text x="689" y="653">*</text>
 <text x="829" y="652.5">0.5H<tspan dy="2" font-size="6.5">2</tspan></text>
 <text x="763" y="773">*H</text>
 <text x="753" y="795">- 0.62 eV</text>
 <text x="753" y="840">- 0.85 eV</text>
</g>
</svg>
</body></html>
